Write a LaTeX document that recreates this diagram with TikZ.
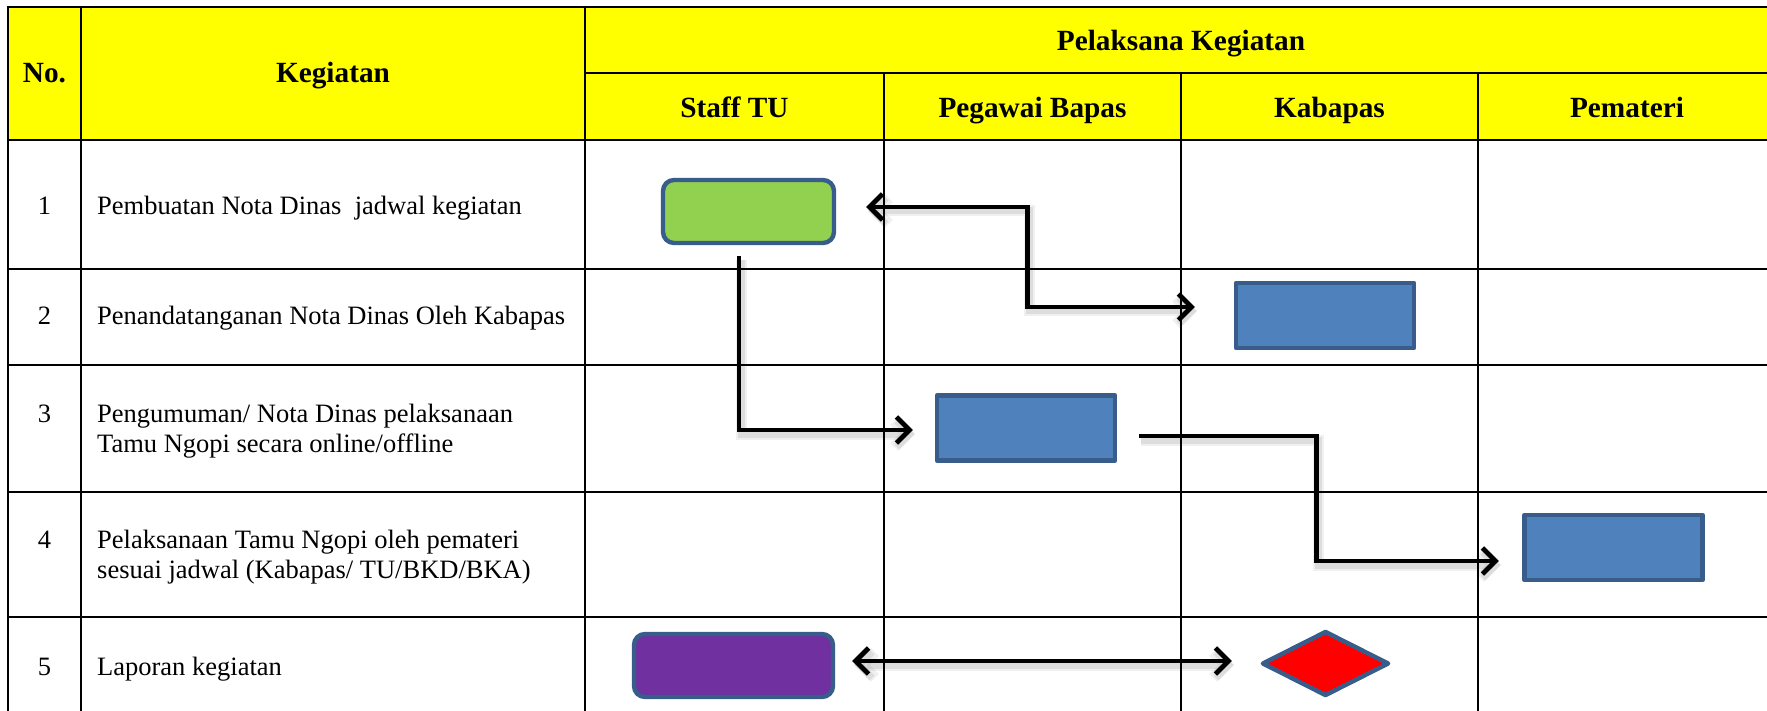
\documentclass[tikz,border=0pt]{standalone}
\usepackage{fontspec}
\setmainfont{Liberation Serif}
\usetikzlibrary{arrows.meta,shapes.geometric,calc}
\definecolor{hdr}{HTML}{FFFF00}
\definecolor{leaf}{HTML}{92D050}
\definecolor{steel}{HTML}{4F81BD}
\definecolor{steelrim}{HTML}{385D8A}
\definecolor{plum}{HTML}{7030A0}
\definecolor{alarm}{HTML}{FF0000}

\begin{document}
\begin{tikzpicture}[x=1pt,y=-1pt,
  grid/.style={line width=2.4pt, line cap=rect},
  hdrtext/.style={font=\fontsize{29.3}{34}\selectfont\bfseries, anchor=base, inner sep=0pt},
  bodytext/.style={font=\fontsize{26.5}{30}\selectfont, anchor=base west, inner sep=0pt},
  numtext/.style={font=\fontsize{26.5}{30}\selectfont, anchor=base, inner sep=0pt},
  box/.style={draw=steelrim, line width=4.4pt, inner sep=0pt, line join=round},
  task/.style={box, fill=steel, minimum width=178pt, minimum height=65pt},
  roundtask/.style={box, rounded corners=11pt, minimum height=63pt},
  flow/.style={line width=4.8pt,
    arrows={-{Straight Barb[length=13pt,width=26pt]}},
    preaction={draw=black, opacity=0.06, line width=11pt,
      transform canvas={shift={(2pt,-4pt)}}},
    preaction={draw=black, opacity=0.08, line width=7pt,
      transform canvas={shift={(2pt,-4pt)}}}},
  twoway/.style={flow,
    arrows={{Straight Barb[length=13pt,width=26pt]}-{Straight Barb[length=13pt,width=26pt]}}}
]
\useasboundingbox (0,0) rectangle (1767,711);
\clip (0,0) rectangle (1767,711);

% header band
\fill[hdr] (8,7) rectangle (1776,140);

% table rules
\draw[grid] (8,7) -- (1776,7);
\draw[grid] (585,73) -- (1776,73);
\draw[grid] (8,140) -- (1776,140);
\foreach \yy in {269,365,492,617}
  \draw[grid] (8,\yy) -- (1776,\yy);
\foreach \xx in {8,81,585,1776}
  \draw[grid] (\xx,7) -- (\xx,730);
\foreach \xx in {884,1181,1478}
  \draw[grid] (\xx,73) -- (\xx,730);

% header labels
\node[hdrtext] (hno) at (44.5,83) {No.};
\node[hdrtext] (hkeg) at (333,83) {Kegiatan};
\node[hdrtext] (hpel) at (1181,51) {Pelaksana Kegiatan};
\node[hdrtext] (hstaff) at (734.5,118) {Staff TU};
\node[hdrtext] (hpeg) at (1032.5,118) {Pegawai Bapas};
\node[hdrtext] (hkab) at (1329.5,118) {Kabapas};
\node[hdrtext] (hpem) at (1627,118) {Pemateri};

% row numbers
\node[numtext] (n1) at (44.5,215) {1};
\node[numtext] (n2) at (44.5,325) {2};
\node[numtext] (n3) at (44.5,422) {3};
\node[numtext] (n4) at (44.5,548) {4};
\node[numtext] (n5) at (44.5,675) {5};

% activities
\node[bodytext] (k1) at (97,215) {Pembuatan Nota Dinas\ \ jadwal kegiatan};
\node[bodytext] (k2) at (97,325) {Penandatanganan Nota Dinas Oleh Kabapas};
\node[bodytext] (k3a) at (97,422) {Pengumuman/ Nota Dinas pelaksanaan};
\node[bodytext] (k3b) at (97,452) {Tamu Ngopi secara online/offline};
\node[bodytext] (k4a) at (97,548) {Pelaksanaan Tamu Ngopi oleh pemateri};
\node[bodytext] (k4b) at (97,578) {sesuai jadwal (Kabapas/ TU/BKD/BKA)};
\node[bodytext] (k5) at (97,675) {Laporan kegiatan};

% flow symbols
\node[roundtask, fill=leaf, minimum width=171pt] (draft) at (748.5,211.5) {};
\node[task] (sign) at (1325,315.5) {};
\node[task] (announce) at (1026,428) {};
\node[task] (hold) at (1613.5,547.5) {};
\node[roundtask, fill=plum, minimum width=199pt] (report) at (733.5,665.5) {};
\node[box, diamond, fill=alarm, minimum width=127pt, minimum height=65pt] (review) at (1325.5,663.5) {};

% connectors
\coordinate (a1s) at ([xshift=30pt,yshift=4.5pt]draft.east);
\coordinate (a1e) at ([xshift=-39pt,yshift=8.5pt]sign.west);
\draw[twoway] (a1s) -| ([xshift=-167pt]a1e) -- (a1e);

\coordinate (a2s) at ([xshift=-9.5pt,yshift=-11pt]draft.south);
\coordinate (a2e) at ([xshift=-22pt,yshift=-2pt]announce.west);
\draw[flow] (a2s) |- (a2e);

\coordinate (a3s) at ([xshift=22pt,yshift=-8pt]announce.east);
\coordinate (a3e) at ([xshift=-23.5pt,yshift=-13.5pt]hold.west);
\draw[flow] (a3s) -| ([xshift=-182pt]a3e) -- (a3e);

\coordinate (a4s) at ([xshift=17pt,yshift=4.5pt]report.east);
\coordinate (a4e) at ([xshift=-28pt,yshift=2.5pt]review.west);
\draw[twoway] (a4s) -- (a4e);
\end{tikzpicture}
\end{document}
